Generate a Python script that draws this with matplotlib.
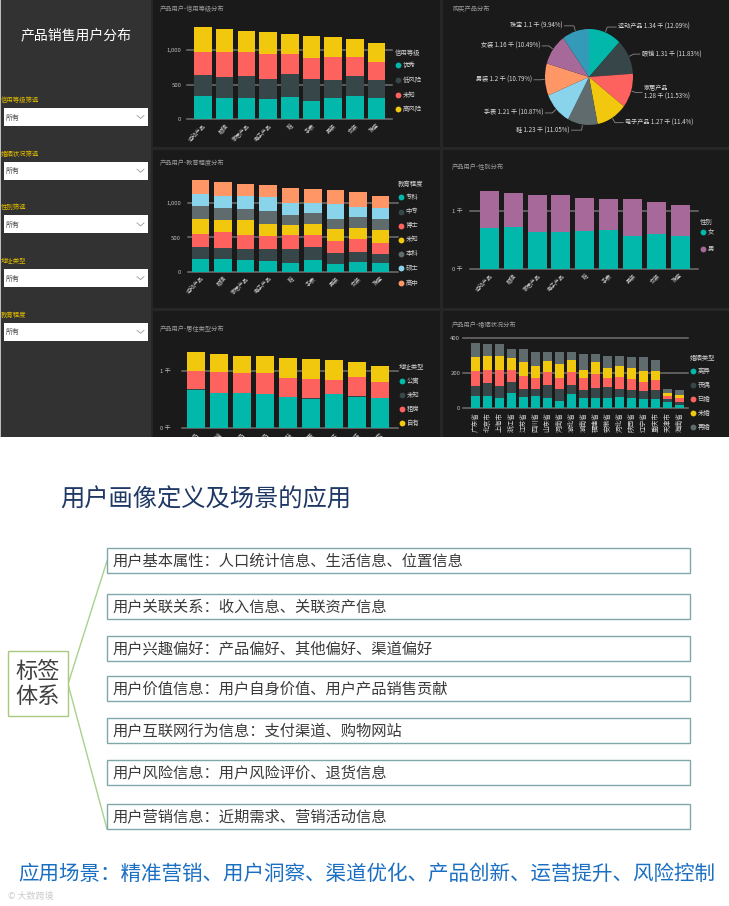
import matplotlib
matplotlib.use('Agg')
import matplotlib.pyplot as plt
from matplotlib.patches import Rectangle
import numpy as np

plt.rcParams['font.family'] = ['Noto Sans CJK SC', 'DejaVu Sans']

# ---------------- data ----------------
products = ['运动产品', '眼镜', '家居产品', '电子产品', '鞋', '手表', '男装', '女装', '珠宝']
totals = [1340, 1310, 1280, 1270, 1230, 1210, 1200, 1160, 1100]
pie_pct = [12.09, 11.83, 11.53, 11.4, 11.05, 10.87, 10.79, 10.49, 9.94]

credit_names = ['优秀', '低风险', '未知', '高风险']
credit_excellent = [335, 301, 311, 291, 316, 267, 301, 335, 301]
credit_low = [306, 306, 315, 287, 344, 311, 272, 291, 267]
credit_unknown = [340, 364, 345, 369, 282, 305, 335, 282, 267]
credit_high = [359, 339, 309, 323, 288, 327, 292, 252, 265]

edu_names = ['专科', '中专', '博士', '未知', '本科', '硕士', '高中']
edu_zhuanke = [180, 189, 165, 160, 131, 170, 117, 146, 131]
edu_zhongzhuan = [174, 151, 165, 170, 199, 184, 160, 145, 126]
edu_boshi = [204, 242, 204, 194, 204, 180, 174, 180, 165]
edu_unknown = [219, 170, 218, 180, 146, 160, 170, 175, 185]
edu_benke = [179, 180, 170, 184, 145, 165, 156, 155, 170]
edu_shuoshi = [185, 170, 180, 204, 180, 146, 218, 146, 155]
edu_gaozhong = [199, 208, 178, 178, 225, 205, 205, 213, 168]

gender_names = ['女', '男']
gender_female = [700, 724, 632, 644, 649, 672, 575, 603, 563]
gender_male = [640, 586, 648, 626, 581, 538, 625, 557, 537]

home_names = ['公寓', '未知', '租房', '自有']
home_apartment = [669, 609, 609, 592, 538, 509, 592, 550, 521]
home_unknown = [10, 8, 9, 7, 8, 9, 8, 7, 8]
home_rent = [327, 365, 352, 365, 330, 346, 246, 336, 288]
home_own = [334, 328, 310, 306, 354, 346, 354, 267, 283]

regions = ['广东省', '北京市', '上海市', '浙江省', '江苏省', '四川省', '山东省', '河南省', '湖北省',
           '湖南省', '福建省', '安徽省', '河北省', '陕西省', '辽宁省', '重庆市', '天津市', '海南省']
marry_names = ['离异', '丧偶', '已婚', '未婚', '再婚']
marry_a = [70, 70, 59, 90, 65, 72, 59, 44, 80, 61, 61, 57, 63, 57, 51, 51, 38, 19]
marry_b = [58, 73, 69, 59, 44, 38, 72, 66, 53, 44, 55, 63, 46, 48, 50, 54, 15, 19]
marry_c = [85, 76, 91, 70, 78, 61, 79, 61, 73, 66, 80, 51, 72, 63, 51, 57, 17, 19]
marry_d = [82, 80, 82, 71, 80, 73, 60, 80, 70, 48, 71, 61, 63, 61, 61, 51, 16, 19]
marry_e = [76, 67, 65, 49, 72, 80, 50, 71, 46, 93, 45, 67, 55, 66, 78, 63, 24, 29]

filters = ['信用等级筛选', '婚姻状况筛选', '性别筛选', '地址类型', '教育程度']

tag_items = ['用户基本属性：人口统计信息、生活信息、位置信息',
             '用户关联关系：收入信息、关联资产信息',
             '用户兴趣偏好：产品偏好、其他偏好、渠道偏好',
             '用户价值信息：用户自身价值、用户产品销售贡献',
             '用户互联网行为信息：支付渠道、购物网站',
             '用户风险信息：用户风险评价、退货信息',
             '用户营销信息：近期需求、营销活动信息']

TEAL, DARK, RED, YEL, GRAY, LBLUE, ORANGE, PURPLE, BLUE = (
    '#01B8AA', '#374649', '#FD625E', '#F2C80F', '#5F6B6D', '#8AD4EB', '#FE9666', '#A66999', '#3599B8')

W, H = 729, 906
fig = plt.figure(figsize=(W / 100, H / 100), dpi=100, facecolor='white')

bg = fig.add_axes([0, 0, 1, 1])
bg.set_xlim(0, W)
bg.set_ylim(H, 0)
bg.axis('off')


def rect(ax, x0, y0, x1, y1, fc, ec='none', lw=0, z=1):
    ax.add_patch(Rectangle((x0, y0), x1 - x0, y1 - y0, facecolor=fc, edgecolor=ec, linewidth=lw, zorder=z))


# dashboard background
rect(bg, 0, 0, W, 437, '#262626')
rect(bg, 0, 0, 151, 437, '#323232', z=2)
rect(bg, 0, 0, 1.5, 437, '#bdbdbd', z=3)
for (x0, y0, x1, y1) in [(153, 0, 440, 147), (443, 0, W, 147), (153, 150, 440, 308),
                         (443, 150, W, 308), (153, 311, 440, 437), (443, 311, W, 437)]:
    rect(bg, x0, y0, x1, y1, '#1a1a1a', z=2)

# sidebar
bg.text(76, 35, '产品销售用户分布', color='white', fontsize=10, ha='center', va='center', zorder=5)
for i, name in enumerate(filters):
    yb = 108 + i * 53.7
    bg.text(1, yb - 8, name, color='#e0bb00', fontsize=4.6, ha='left', va='center', zorder=5)
    rect(bg, 4, yb, 148, yb + 18, 'white', z=4)
    bg.text(6, yb + 9.5, '所有', color='#444444', fontsize=5, ha='left', va='center', zorder=5)
    bg.plot([137, 140.5, 144], [yb + 7.5, yb + 10.5, yb + 7.5], color='#9a9a9a', lw=0.6, zorder=5)

# panel titles
for (x, y, t) in [(160, 9, '产品用户-信用等级分布'), (453, 9, '购买产品分布'), (160, 163, '产品用户-教育程度分布'),
                  (452, 167, '产品用户-性别分布'), (160, 329, '产品用户-居住类型分布'), (452, 325, '产品用户-婚姻状况分布')]:
    bg.text(x, y, t, color='#9a9a9a', fontsize=4.5, ha='left', va='center', zorder=5)


def legend(x, yt, ys, title, names, colors):
    bg.text(x - 2, yt, title, color='#cfcfcf', fontsize=4.6, ha='left', va='center', zorder=5)
    for y, n, c in zip(ys, names, colors):
        bg.plot([x + 1], [y], 'o', ms=4.2, color=c, mec='none', zorder=5)
        bg.text(x + 5.5, y, n, color='#cfcfcf', fontsize=4.6, ha='left', va='center', zorder=5)


def bar_axes(xl, xr, ybase, yref, vref, ytop, c0, c1, n):
    ax = fig.add_axes([xl / W, 1 - ybase / H, (xr - xl) / W, (ybase - ytop) / H])
    step = (c1 - c0) / (n - 1)
    ax.set_xlim((xl - c0) / step, (xr - c0) / step)
    ppv = (ybase - yref) / vref
    ax.set_ylim(0, (ybase - ytop) / ppv)
    for s in ax.spines.values():
        s.set_visible(False)
    ax.patch.set_visible(False)
    return ax, step


def stacked(ax, cats, series, colors, width, yt, ytl, rot, ypad, xfs=4):
    x = np.arange(len(cats))
    bottom = np.zeros(len(cats))
    for vals, c in zip(series, colors):
        v = np.array(vals, float)
        ax.bar(x, v, width, bottom=bottom, color=c, zorder=3, linewidth=0)
        bottom += v
    for v in yt:
        ax.axhline(v, color='#707070', lw=1.1, zorder=1, clip_on=False)
    ax.set_yticks(yt)
    ax.set_yticklabels(ytl, color='#bdbdbd', fontsize=4.3)
    ax.set_xticks(x)
    if rot == 90:
        ax.set_xticklabels(cats, rotation=90, ha='center', va='top', color='#cfcfcf', fontsize=xfs)
    else:
        ax.set_xticklabels(cats, rotation=rot, ha='right', va='top', rotation_mode='anchor',
                           color='#cfcfcf', fontsize=xfs)
    ax.tick_params(axis='both', length=0)
    ax.tick_params(axis='y', pad=ypad)
    ax.tick_params(axis='x', pad=2.5)


# panel 1 credit
ax1, st = bar_axes(187, 392, 119, 50.3, 1000, 20, 203, 376.5, 9)
stacked(ax1, products, [credit_excellent, credit_low, credit_unknown, credit_high],
        [TEAL, DARK, RED, YEL], 17.5 / st, [0, 500, 1000], ['0', '500', '1,000'], 45, 4)
legend(397, 53, [65, 80, 95, 108.5], '信用等级', credit_names, [TEAL, DARK, RED, YEL])

# panel 3 education
ax3, st = bar_axes(188, 398, 271.7, 203.3, 1000, 175, 200.5, 380.5, 9)
stacked(ax3, products, [edu_zhuanke, edu_zhongzhuan, edu_boshi, edu_unknown, edu_benke, edu_shuoshi, edu_gaozhong],
        [TEAL, DARK, RED, YEL, GRAY, LBLUE, ORANGE], 17.5 / st, [0, 500, 1000], ['0', '500', '1,000'], 45, 5)
legend(400, 184, [197, 211.5, 225.5, 239.5, 253.5, 267.5, 283], '教育程度', edu_names,
       [TEAL, DARK, RED, YEL, GRAY, LBLUE, ORANGE])

# panel 4 gender
ax4, st = bar_axes(470, 698, 269, 211, 1000, 180, 489.5, 680, 9)
stacked(ax4, products, [gender_female, gender_male], [TEAL, PURPLE], 19 / st,
        [0, 1000], ['0 千', '1 千'], 45, 5)
legend(702, 221.7, [232, 249], '性别', gender_names, [TEAL, PURPLE])

# panel 5 residence
ax5, st = bar_axes(182, 398, 427.7, 371.3, 1000, 340, 196, 380, 9)
stacked(ax5, products, [home_apartment, home_unknown, home_rent, home_own], [TEAL, DARK, RED, YEL], 18 / st,
        [0, 1000], ['0 千', '1 千'], 45, 8, xfs=4.6)
legend(401, 367, [381, 395, 409, 423.3], '地址类型', home_names, [TEAL, DARK, RED, YEL])

# panel 6 marriage
ax6, st = bar_axes(463, 688, 408.3, 373.3, 200, 335, 475.5, 679.5, 18)
stacked(ax6, regions, [marry_a, marry_b, marry_c, marry_d, marry_e], [TEAL, DARK, RED, YEL, GRAY], 9 / st,
        [0, 200, 400], ['0', '200', '400'], 90, 2, xfs=4.8)
legend(692, 357.7, [371, 385, 399, 413.3, 427.3], '婚姻类型', marry_names, [TEAL, DARK, RED, YEL, GRAY])

# panel 2 pie
cx, cy, rx, ry = 589, 77, 44, 48
axp = fig.add_axes([(cx - rx) / W, 1 - (cy + ry) / H, 2 * rx / W, 2 * ry / H])
wedges, _ = axp.pie(pie_pct, colors=[TEAL, DARK, RED, YEL, GRAY, LBLUE, ORANGE, PURPLE, BLUE],
                    startangle=90, counterclock=False, radius=1, wedgeprops=dict(linewidth=0))
axp.set_aspect('auto')
axp.set_xlim(-1, 1)
axp.set_ylim(-1, 1)
axp.axis('off')
for i, w in enumerate(wedges):
    th = np.deg2rad((w.theta1 + w.theta2) / 2)
    c, s = np.cos(th), np.sin(th)
    ex, ey = cx + rx * 1.02 * c, cy - ry * 1.02 * s
    kx, ky = cx + rx * 1.12 * c, cy - ry * 1.12 * s
    right = c >= 0
    tx = cx + rx * c + (13 if right else -13)
    lab_val = f'{totals[i] / 1000:g} 千 ({pie_pct[i]:g}%)'
    label = f'{products[i]}\n{lab_val}' if i == 2 else f'{products[i]} {lab_val}'
    bg.plot([ex, kx, tx + (-2 if right else 2)], [ey, ky, ky], color='#8a8a8a', lw=0.6, zorder=5)
    bg.text(tx, ky, label, color='#dddddd', fontsize=4.4, ha='left' if right else 'right', va='center',
            zorder=5, linespacing=1.1)

# ---------------- lower white section ----------------
low = fig.add_axes([0, 0, 1, (H - 437) / H])
low.set_xlim(0, W)
low.set_ylim(H, 437)
low.axis('off')
rect(low, 0, 437, W, H, 'white', z=0)

low.text(60, 500, '用户画像定义及场景的应用', color='#1f3864', fontsize=17.5, ha='left', va='center')

box_y = [548, 594, 636, 676, 718, 760, 804]
for y0, t in zip(box_y, tag_items):
    rect(low, 108, y0 + 1.2, 691, y0 + 26.2, '#d6e3e4', z=1)
    rect(low, 107, y0, 690, y0 + 25, 'white', ec='#7fa8ab', lw=1.0, z=2)
    low.text(113, y0 + 12.5, t, color='#3a3a3a', fontsize=11, ha='left', va='center', zorder=3)

rect(low, 8, 651, 68, 716, 'white', ec='#a9c97f', lw=1.0, z=2)
low.text(38, 684, '标签\n体系', color='#404040', fontsize=16, ha='center', va='center', linespacing=1.15, zorder=3)
low.plot([107, 68], [561, 684], color='#a9d18e', lw=1.0, zorder=1)
low.plot([68, 107], [684, 829], color='#a9d18e', lw=1.0, zorder=1)

low.text(18, 874, '应用场景：精准营销、用户洞察、渠道优化、产品创新、运营提升、风险控制',
         color='#1b6fc2', fontsize=14.8, ha='left', va='center')
low.text(8, 896, '© 大数跨境', color='#cdcdcd', fontsize=6.5, ha='left', va='center')

fig.savefig('out.png', dpi=100, facecolor='white')
